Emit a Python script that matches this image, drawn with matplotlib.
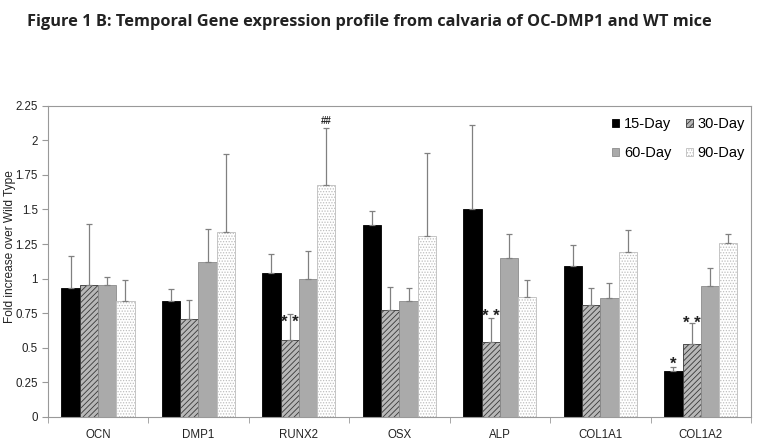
import matplotlib
matplotlib.use("Agg")
import matplotlib.pyplot as plt
import numpy as np

genes = ["OCN", "DMP1", "RUNX2", "OSX", "ALP", "COL1A1", "COL1A2"]
series = ["15-Day", "30-Day", "60-Day", "90-Day"]

# mean values
day15 = [0.93, 0.84, 1.04, 1.39, 1.50, 1.09, 0.33]
day30 = [0.955, 0.71, 0.56, 0.77, 0.54, 0.81, 0.525]
day60 = [0.955, 1.12, 1.00, 0.84, 1.15, 0.86, 0.95]
day90 = [0.835, 1.335, 1.675, 1.31, 0.865, 1.19, 1.255]

# top of the error bars
err15 = [1.16, 0.925, 1.175, 1.487, 2.11, 1.245, 0.36]
err30 = [1.395, 0.842, 0.745, 0.938, 0.712, 0.929, 0.676]
err60 = [1.015, 1.357, 1.198, 0.934, 1.326, 0.972, 1.08]
err90 = [0.987, 1.90, 2.086, 1.91, 0.989, 1.355, 1.323]

# significance marks: (gene index, series index, text, height of the mark)
marks = [(2, 1, "* *", 0.72), (2, 3, "##", 2.14), (4, 1, "* *", 0.765),
         (6, 0, "*", 0.42), (6, 1, "* *", 0.715)]

plt.rcParams["hatch.linewidth"] = 0.6

fig = plt.figure(figsize=(7.62, 4.42), dpi=100)
ax = fig.add_axes([0.0626, 0.0566, 0.9230, 0.7043])

means = [day15, day30, day60, day90]
tops = [err15, err30, err60, err90]
styles = [
    dict(color="black", edgecolor="black", hatch=None),
    dict(color="#b8b8b8", edgecolor="#383838", hatch="//////"),
    dict(color="#aaaaaa", edgecolor="#8c8c8c", hatch=None),
    dict(color="white", edgecolor="#bdbdbd", hatch="......"),
]

x = np.arange(len(genes))
w = 0.182
bars = []
for i, (m, t, st) in enumerate(zip(means, tops, styles)):
    pos = x + (i - 1.5) * w
    m = np.array(m)
    up = np.array(t) - m
    b = ax.bar(pos, m, w, color=st["color"], edgecolor=st["edgecolor"],
               hatch=st["hatch"], linewidth=0.6, label=series[i], zorder=2)
    bars.append(b)
    ax.errorbar(pos, m, yerr=[np.zeros_like(up), up], fmt="none",
                ecolor="#808080", elinewidth=0.9, capsize=2, capthick=0.9, zorder=3)

for g, s, txt, yv in marks:
    pos = x[g] + (s - 1.5) * w
    if "*" in txt:
        # asterisk sits high in the em box, so shift baseline down
        ax.text(pos, yv - 0.07, txt, ha="center", va="baseline", fontsize=12,
                fontweight="bold", family="Liberation Sans", color="#222222", zorder=4)
    else:
        ax.text(pos, yv - 0.025, txt, ha="center", va="baseline", fontsize=7,
                fontweight="bold", family="Liberation Sans", color="#222222", zorder=4)

ax.set_xlim(-0.5, len(genes) - 0.5)
ax.set_ylim(0, 2.25)
ax.set_yticks(np.arange(0, 2.26, 0.25))
ax.set_yticklabels(["0", "0.25", "0.5", "0.75", "1", "1.25", "1.5", "1.75", "2", "2.25"])
ax.set_xticks(x)
ax.set_xticklabels(genes)
ax.set_xticks(np.arange(-0.5, len(genes), 1.0), minor=True)
ax.tick_params(axis="x", which="major", length=0, pad=9)
ax.tick_params(axis="x", which="minor", length=4, color="#999999", direction="out")
ax.tick_params(axis="y", length=4, color="#999999", direction="out", pad=3)
for lbl in ax.get_xticklabels() + ax.get_yticklabels():
    lbl.set_family("Liberation Sans")
    lbl.set_fontsize(8.3)
    lbl.set_color("#222222")
for sp in ax.spines.values():
    sp.set_color("#999999")
    sp.set_linewidth(0.8)

ax.set_ylabel("Fold increase over Wild Type", family="Liberation Sans",
              fontsize=8.6, color="#222222")
ax.yaxis.set_label_coords(-0.045, 0.546)

# legend filled row by row: 15, 30 / 60, 90
order = [0, 2, 1, 3]
ax.legend([bars[k] for k in order], [series[k] for k in order], ncol=2,
          loc="upper right", bbox_to_anchor=(0.9915, 0.963), frameon=False,
          prop={"family": "Liberation Sans", "size": 10.5},
          handlelength=0.45, handleheight=0.45, handletextpad=0.35,
          columnspacing=1.0, labelspacing=1.0, borderaxespad=0, borderpad=0)

fig.text(0.036, 0.95, "Figure 1 B: Temporal Gene expression profile from calvaria of OC-DMP1 and WT mice",
         ha="left", va="center", fontsize=11.8, fontweight="bold", family="Open Sans", color="#222222")

fig.savefig("out.png", dpi=100)
